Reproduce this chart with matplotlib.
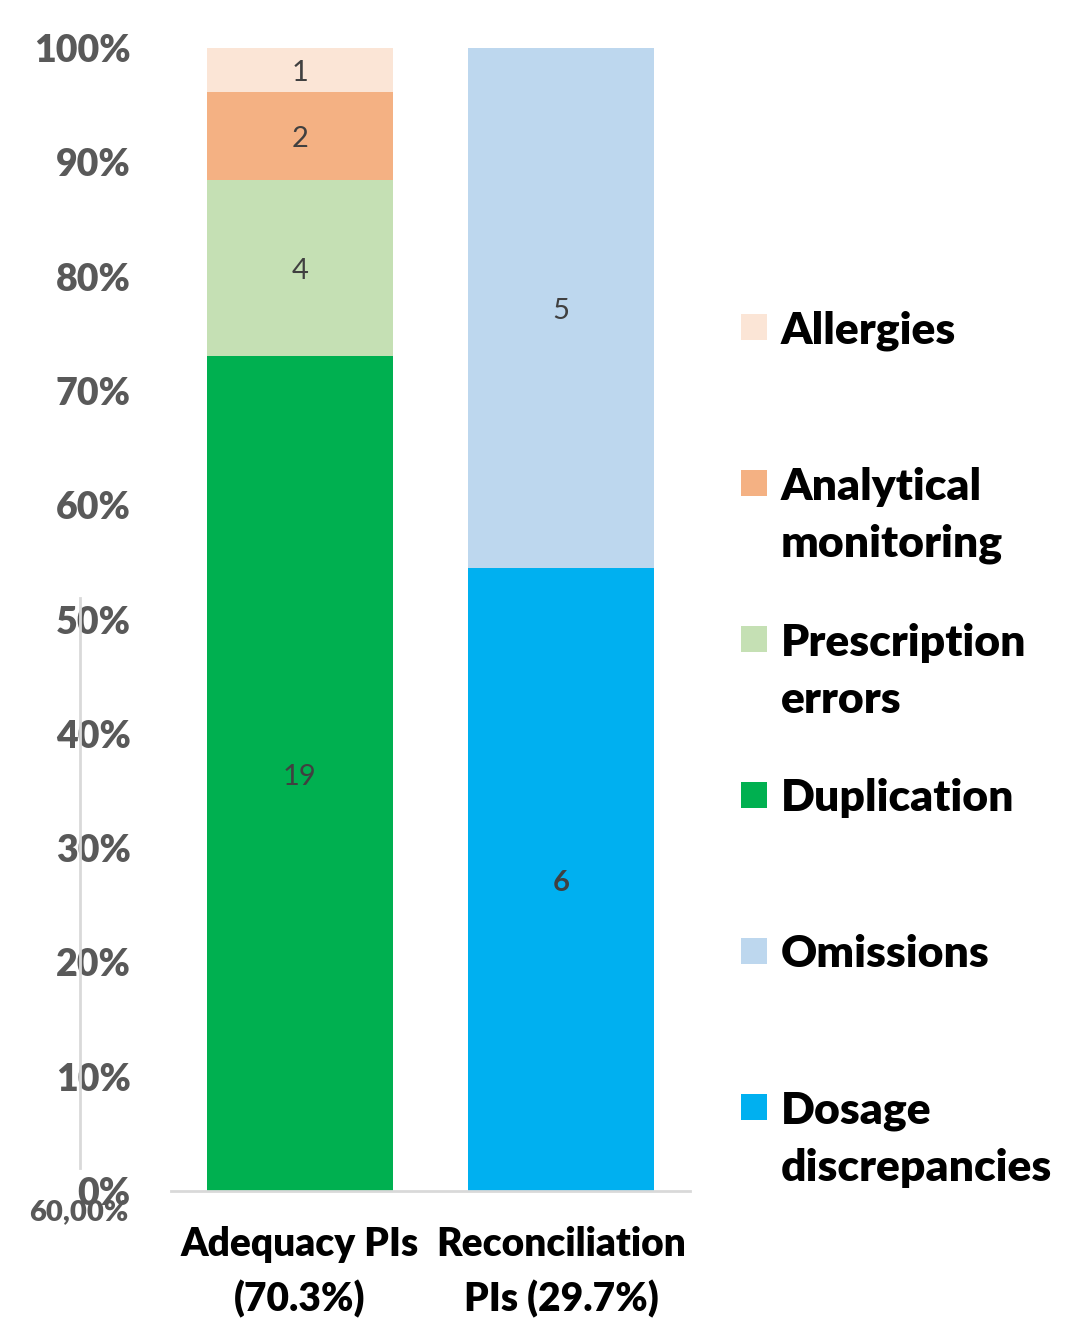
import matplotlib.pyplot as plt
from matplotlib.patches import Rectangle
from matplotlib.lines import Line2D

groups = ['Adequacy PIs\n(70.3%)', 'Reconciliation\nPIs (29.7%)']
categories = ['Allergies', 'Analytical\nmonitoring', 'Prescription\nerrors',
              'Duplication', 'Omissions', 'Dosage\ndiscrepancies']
colors = ['#FBE5D6', '#F4B183', '#C5E0B4', '#00B050', '#BDD7EE', '#00B0F0']

# counts per group, stacked bottom -> top
adequacy = {'Duplication': 19, 'Prescription\nerrors': 4,
            'Analytical\nmonitoring': 2, 'Allergies': 1}
reconciliation = {'Dosage\ndiscrepancies': 6, 'Omissions': 5}

plt.rcParams['font.family'] = ['Lato', 'DejaVu Sans']
W = 'heavy'

fig = plt.figure(figsize=(10.65, 13.18), dpi=100)
ax = fig.add_axes([171 / 1065, 127 / 1318, 519 / 1065, 1143 / 1318])

colmap = dict(zip(categories, colors))
for xi, data in enumerate([adequacy, reconciliation]):
    total = sum(data.values())
    bottom = 0
    for cat, v in data.items():
        h = v / total
        ax.bar(xi, h, bottom=bottom, width=0.713, color=colmap[cat], linewidth=0)
        bold = cat == 'Dosage\ndiscrepancies'
        ax.text(xi, bottom + h / 2 - 0.003, str(v), ha='center', va='center',
                fontsize=21, color='#404040',
                fontweight='bold' if bold else 'normal')
        bottom += h

ax.set_xlim(-0.494, 1.494)
ax.set_ylim(0, 1)
ax.set_yticks([i / 10 for i in range(11)])
ax.set_yticklabels([f'{i * 10}%' for i in range(11)], fontsize=27,
                   fontweight=W, color='#595959')
ax.set_xticks([0, 1])
ax.set_xticklabels(groups, fontsize=28, fontweight=W, color='black',
                   linespacing=1.55)
ax.tick_params(axis='y', length=0, pad=29)
ax.tick_params(axis='x', length=0, pad=25)
for s in ['top', 'right', 'left']:
    ax.spines[s].set_visible(False)
ax.spines['bottom'].set_color('#D9D9D9')
ax.spines['bottom'].set_linewidth(2)

# stray secondary axis artifacts
fig.add_artist(Line2D([80 / 1065, 80 / 1065], [1 - 598 / 1318, 1 - 1168 / 1318],
                      color='#D9D9D9', linewidth=2))
fig.text(128 / 1065, 1 - 1212 / 1318, '60,00%', ha='right', va='center',
         fontsize=21, fontweight=W, color='#595959')

# legend
centers = [327, 483, 639, 795, 951, 1107]
for cat, c, yc in zip(categories, colors, centers):
    fig.add_artist(Rectangle((741 / 1065, 1 - (yc + 13) / 1318), 26 / 1065, 26 / 1318,
                             transform=fig.transFigure, color=c, linewidth=0))
    n = cat.count('\n')
    fig.text(781 / 1065, 1 - (yc + 16 + 58 * n) / 1318, cat, ha='left', va='baseline',
             fontsize=32, fontweight=W, color='black', linespacing=1.53)

fig.savefig('out.png', dpi=100)
